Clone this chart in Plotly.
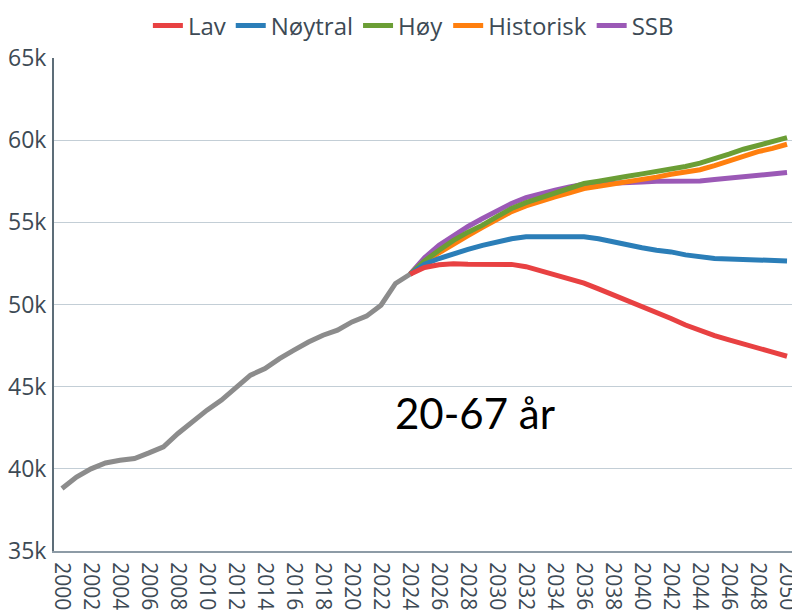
import plotly.graph_objects as go

hist_years = list(range(2000, 2025))
hist_vals = [38.8, 39.5, 40.0, 40.36, 40.52, 40.63, 40.97, 41.34, 42.15, 42.86,
             43.57, 44.18, 44.98, 45.7, 46.1, 46.71, 47.22, 47.72, 48.13, 48.44,
             48.94, 49.29, 49.96, 51.28, 51.84]

proj_years = list(range(2024, 2051))
lav = [51.84, 52.25, 52.42, 52.48, 52.45, 52.44, 52.45, 52.44, 52.3, 52.05,
       51.78, 51.55, 51.3, 50.95, 50.6, 50.25, 49.9, 49.5, 49.15, 48.75,
       48.4, 48.1, 47.85, 47.62, 47.4, 47.1, 46.85]
noytral = [51.84, 52.45, 52.8, 53.1, 53.35, 53.6, 53.82, 54.0, 54.12, 54.15,
           54.12, 54.12, 54.12, 54.0, 53.8, 53.62, 53.45, 53.3, 53.2, 53.02,
           52.88, 52.8, 52.77, 52.74, 52.72, 52.68, 52.65]
hoy = [51.84, 52.65, 53.3, 53.9, 54.4, 54.83, 55.35, 55.84, 56.2, 56.5,
       56.75, 57.05, 57.36, 57.5, 57.62, 57.8, 57.95, 58.08, 58.27, 58.4,
       58.6, 58.85, 59.15, 59.45, 59.7, 59.95, 60.15]
historisk = [51.84, 52.55, 53.15, 53.7, 54.2, 54.7, 55.2, 55.65, 56.0, 56.3,
             56.55, 56.8, 57.06, 57.2, 57.33, 57.45, 57.6, 57.75, 57.93, 58.05,
             58.2, 58.45, 58.75, 59.05, 59.3, 59.5, 59.75]
ssb = [51.84, 52.85, 53.6, 54.22, 54.75, 55.23, 55.7, 56.15, 56.5, 56.75,
       56.95, 57.15, 57.32, 57.35, 57.36, 57.4, 57.45, 57.5, 57.5, 57.5,
       57.52, 57.6, 57.7, 57.8, 57.88, 57.95, 58.03]

series = [
    ("SSB", ssb, "#9b59b6", 5),
    ("Historisk", historisk, "#ff7f0e", 4),
    ("Høy", hoy, "#6b9e35", 3),
    ("Nøytral", noytral, "#2b7eb8", 2),
    ("Lav", lav, "#e84142", 1),
]

fig = go.Figure()
for name, vals, color, rank in series:
    fig.add_trace(go.Scatter(
        x=proj_years, y=[v * 1000 for v in vals], mode="lines", name=name,
        line=dict(color=color, width=5), legendrank=rank))
fig.add_trace(go.Scatter(
    x=hist_years, y=[v * 1000 for v in hist_vals], mode="lines", name="Historikk",
    line=dict(color="#8c8c8c", width=5), showlegend=False))

fig.add_annotation(x=2028.5, y=43400, text="20-67 år", showarrow=False,
                   font=dict(family="Lato", size=42, color="#000000"))

tick_col = "#3d4a55"
fig.update_layout(
    width=792, height=607,
    margin=dict(l=46, r=5, t=50, b=64, autoexpand=False),
    paper_bgcolor="white", plot_bgcolor="white",
    font=dict(family="Open Sans", size=20, color=tick_col),
    showlegend=True,
    legend=dict(orientation="h", x=0.485, xanchor="center", y=1.065,
                yanchor="middle", yref="paper",
                font=dict(size=24, color=tick_col),
                itemwidth=30, tracegroupgap=0),
    xaxis=dict(range=[1999.45, 2050.55], tickmode="array",
               tickvals=list(range(2000, 2051, 2)), tickangle=90,
               showgrid=False, showline=True, linecolor="#8d9ba6", linewidth=2,
               ticks="", ticklabelstandoff=5, ticklabeloverflow="allow",
               tickfont=dict(size=21, color=tick_col), zeroline=False,
               automargin=False),
    yaxis=dict(range=[35000, 65000], tickvals=list(range(35000, 65001, 5000)),
               ticktext=[f"{v}k" for v in range(35, 66, 5)],
               showgrid=True, gridcolor="#c3ced6", gridwidth=1,
               showline=True, linecolor="#5d6d78", linewidth=2,
               ticks="", ticklabelstandoff=1, ticklabeloverflow="allow",
               tickfont=dict(size=23, color=tick_col), zeroline=False,
               automargin=False),
)
fig.write_html("out.html")
